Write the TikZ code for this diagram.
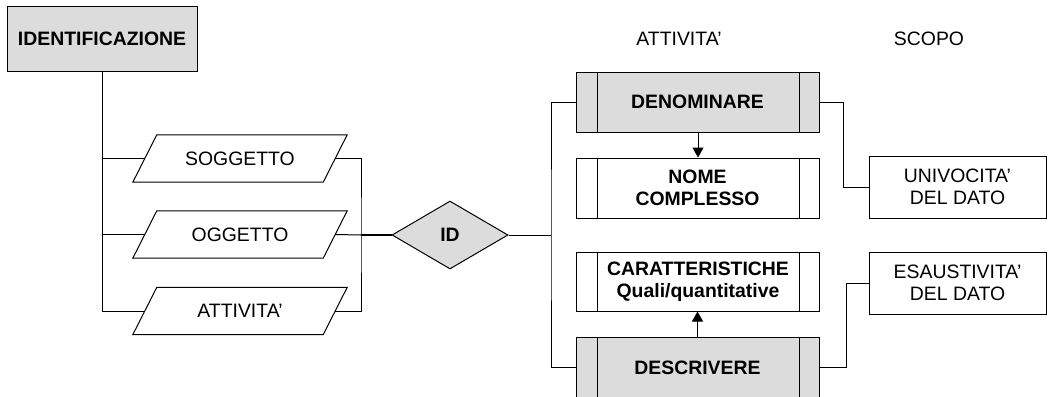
\documentclass[tikz,border=0pt]{standalone}
\usepackage{fontspec}
\setmainfont{Liberation Sans}
\usetikzlibrary{shapes.geometric,arrows.meta}
\definecolor{boxgray}{HTML}{DCDCDC}
\begin{document}
\begin{tikzpicture}[x=1pt,y=-1pt,
  every node/.style={font=\fontsize{19.4}{22.5}\selectfont, align=center, inner sep=0pt},
  conn/.style={draw=black, line width=1pt},
  plainbox/.style={draw, line width=1pt, rectangle},
  graybox/.style={plainbox, fill=boxgray, font=\fontsize{19.4}{22.5}\selectfont\bfseries},
  % slanted input/output box: the outline is drawn around this rectangle below
  parbox/.style={rectangle, minimum width=214, minimum height=47},
  procbox/.style={plainbox, minimum width=243, minimum height=60,
    path picture={
      \draw[line width=1pt] ([xshift=21pt]path picture bounding box.north west) -- ([xshift=21pt]path picture bounding box.south west);
      \draw[line width=1pt] ([xshift=-20pt]path picture bounding box.north east) -- ([xshift=-20pt]path picture bounding box.south east);
    }},
  tip/.style={-{Triangle[length=10pt,width=11pt]}}
]
\useasboundingbox (0,0) rectangle (1048,396);
\clip (0,0) rectangle (1048,396);

% headers
\node (hatt) at (679,38.5) {ATTIVITA'};
\node (hsco) at (929,38.5) {SCOPO};

% left part
\node[graybox, minimum width=190, minimum height=64] (ident) at (102,39) {IDENTIFICAZIONE};
\node[parbox] (sog) at (240,158.5) {SOGGETTO};
\node[parbox] (ogg) at (240,234.5) {OGGETTO};
\node[parbox] (att) at (240,311) {ATTIVITA'};
\foreach \n in {sog,ogg,att}
  \draw[line width=1pt] ([xshift=24pt]\n.north west) -- (\n.north east)
    -- ([xshift=-24pt]\n.south east) -- (\n.south west) -- cycle;
\node[draw, line width=1pt, diamond, aspect=1.7, fill=boxgray, minimum width=116, minimum height=68,
  font=\fontsize{19.4}{22.5}\selectfont\bfseries] (id) at (450,235) {ID};

% activities
\node[procbox, fill=boxgray, font=\fontsize{19.4}{22.5}\selectfont\bfseries] (den) at (697.5,102) {DENOMINARE};
\node[procbox, font=\fontsize{19.4}{22.5}\selectfont\bfseries] (nome) at (697.5,188) {NOME\\COMPLESSO};
\node[procbox, minimum height=59, font=\fontsize{19.4}{22.5}\selectfont\bfseries] (car) at (698,281.5) {CARATTERISTICHE\\Quali/quantitative};
\node[procbox, fill=boxgray, font=\fontsize{19.4}{22.5}\selectfont\bfseries] (des) at (697.5,367.5) {DESCRIVERE};

% purposes
\node[plainbox, minimum width=177, minimum height=62] (univ) at (957.5,187) {UNIVOCITA'\\DEL DATO};
\node[plainbox, minimum width=177, minimum height=62] (esau) at (957.5,283) {ESAUSTIVITA'\\DEL DATO};

% junction points
\coordinate (jl) at (361,235);
\coordinate (jr) at (551,235);
\coordinate (ju) at (843,187);
\coordinate (je) at (846,283);

% connectors (slanted sides meet the links at their mid-points)
\draw[conn] (ident.south) |- ([xshift=12pt]sog.west);
\draw[conn] (ident.south) |- ([xshift=12pt]ogg.west);
\draw[conn] (ident.south) |- ([xshift=12pt]att.west);
\draw[conn] ([xshift=-12pt]sog.east) -| (jl) |- ([xshift=-12pt]att.east);
\draw[conn] ([xshift=-12pt]ogg.east) -- (jl);
\draw[draw=black, line width=1.8pt] (jl) -- (id.west);
\draw[conn] (id.east) -- (jr);
\draw[conn] (den.west) -| (jr) |- (des.west);
\draw[conn, tip] ([xshift=0.5pt]den.south) -- ([xshift=0.5pt]nome.north);
\draw[conn, tip] (des.north) -- (car.south -| des.north);
\draw[conn] (den.east) -| (ju) -- (univ.west);
\draw[conn] (des.east) -| (je) -- (esau.west);
\end{tikzpicture}
\end{document}
